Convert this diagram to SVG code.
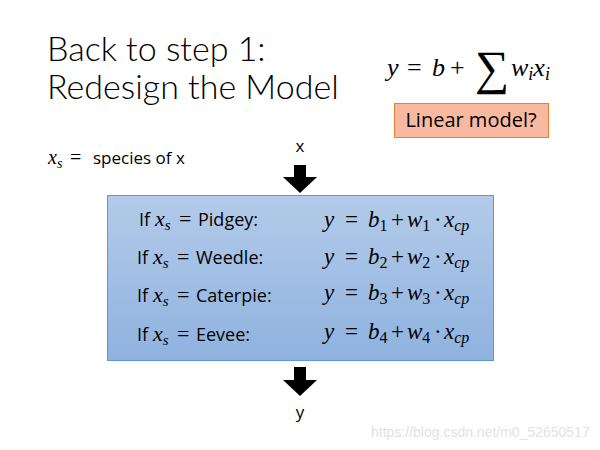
<svg xmlns="http://www.w3.org/2000/svg" width="600" height="450" viewBox="0 0 600 450">
<defs>
<linearGradient id="bg" x1="0" y1="0" x2="0" y2="1">
<stop offset="0" stop-color="#b3cbe9"/>
<stop offset="1" stop-color="#8fb2df"/>
</linearGradient>
<style>
.t{font-family:"Open Sans","Liberation Sans",sans-serif;fill:#000}
.h{font-family:Lato,"Open Sans",sans-serif;font-weight:300;font-size:34px;fill:#000}
.m{font-family:"Liberation Serif",serif;font-style:italic;fill:#000}
.n{font-family:"Liberation Serif",serif;fill:#000}
.arr{fill:#000}
</style>
</defs>
<rect width="600" height="450" fill="#fff"/>
<g id="title">
<text class="h" x="47" y="61">Back to step 1:</text>
<text class="h" x="47" y="99">Redesign the Model</text>
</g>
<g id="formula" font-size="26">
<text class="m" x="387" y="76">y</text>
<text class="n" x="407" y="76">=</text>
<text class="m" x="432" y="76">b</text>
<text class="n" x="450" y="76">+</text>
<text class="n" x="475" y="84" font-size="48">∑</text>
<text class="m" x="511" y="76">w<tspan font-size="18" dy="4">i</tspan><tspan dy="-4">x</tspan><tspan font-size="18" dy="4">i</tspan></text>
</g>
<g id="linear">
<rect x="394.5" y="103.5" width="154" height="34" fill="#f7b9a0" stroke="#ed7d31" stroke-width="1"/>
<text class="t" x="471" y="127" font-size="20" text-anchor="middle">Linear model?</text>
</g>
<g id="species">
<text x="48" y="164"><tspan class="m" font-size="20">x</tspan><tspan class="m" font-size="14" dy="4">s</tspan><tspan class="n" font-size="20" dy="-4" x="70">=</tspan><tspan class="t" font-size="17" x="93">species of x</tspan></text>
</g>
<g id="input">
<text class="t" x="300" y="152" font-size="17" text-anchor="middle">x</text>
</g>
<g id="output">
<text class="t" x="300" y="418" font-size="17" text-anchor="middle">y</text>
</g>
<g id="connectors">
<polygon class="arr" points="294,165 306,165 306,177 317,177 300,193 283,177 294,177"/>
<polygon class="arr" points="294,367 306,367 306,380 317,380 300,396 283,380 294,380"/>
</g>
<g id="box">
<rect x="107.5" y="195.5" width="386" height="165" fill="url(#bg)" stroke="#5b9bd5" stroke-width="1"/>
<g font-size="22">
<text x="139" y="226"><tspan class="t" font-size="18">If</tspan><tspan class="m" x="155">x</tspan><tspan class="m" font-size="15" dy="4">s</tspan><tspan class="n" dy="-4" x="179">=</tspan><tspan class="t" font-size="18" x="198">Pidgey:</tspan></text>
<text x="137" y="264"><tspan class="t" font-size="18">If</tspan><tspan class="m" x="153">x</tspan><tspan class="m" font-size="15" dy="4">s</tspan><tspan class="n" dy="-4" x="177">=</tspan><tspan class="t" font-size="18" x="196">Weedle:</tspan></text>
<text x="137" y="302"><tspan class="t" font-size="18">If</tspan><tspan class="m" x="153">x</tspan><tspan class="m" font-size="15" dy="4">s</tspan><tspan class="n" dy="-4" x="177">=</tspan><tspan class="t" font-size="18" x="196">Caterpie:</tspan></text>
<text x="137" y="341"><tspan class="t" font-size="18">If</tspan><tspan class="m" x="153">x</tspan><tspan class="m" font-size="15" dy="4">s</tspan><tspan class="n" dy="-4" x="177">=</tspan><tspan class="t" font-size="18" x="196">Eevee:</tspan></text>
</g>
<g font-size="23">
<text x="324" y="227"><tspan class="m">y</tspan><tspan class="n" x="345">=</tspan><tspan class="m" x="368">b</tspan><tspan class="n" font-size="16" dy="4">1</tspan><tspan class="n" dy="-4" x="391">+</tspan><tspan class="m" x="407">w</tspan><tspan class="n" font-size="16" dy="4">1</tspan><tspan class="n" dy="-4" x="434">·</tspan><tspan class="m" x="444">x</tspan><tspan class="m" font-size="16" dy="4">cp</tspan></text>
<text x="324" y="264"><tspan class="m">y</tspan><tspan class="n" x="345">=</tspan><tspan class="m" x="368">b</tspan><tspan class="n" font-size="16" dy="4">2</tspan><tspan class="n" dy="-4" x="391">+</tspan><tspan class="m" x="407">w</tspan><tspan class="n" font-size="16" dy="4">2</tspan><tspan class="n" dy="-4" x="434">·</tspan><tspan class="m" x="444">x</tspan><tspan class="m" font-size="16" dy="4">cp</tspan></text>
<text x="324" y="300"><tspan class="m">y</tspan><tspan class="n" x="345">=</tspan><tspan class="m" x="368">b</tspan><tspan class="n" font-size="16" dy="4">3</tspan><tspan class="n" dy="-4" x="391">+</tspan><tspan class="m" x="407">w</tspan><tspan class="n" font-size="16" dy="4">3</tspan><tspan class="n" dy="-4" x="434">·</tspan><tspan class="m" x="444">x</tspan><tspan class="m" font-size="16" dy="4">cp</tspan></text>
<text x="324" y="339"><tspan class="m">y</tspan><tspan class="n" x="345">=</tspan><tspan class="m" x="368">b</tspan><tspan class="n" font-size="16" dy="4">4</tspan><tspan class="n" dy="-4" x="391">+</tspan><tspan class="m" x="407">w</tspan><tspan class="n" font-size="16" dy="4">4</tspan><tspan class="n" dy="-4" x="434">·</tspan><tspan class="m" x="444">x</tspan><tspan class="m" font-size="16" dy="4">cp</tspan></text>
</g>
</g>
<text x="371" y="437" font-family="Liberation Sans, sans-serif" font-size="14" fill="#e2e2e2">https://blog.csdn.net/m0_52650517</text>
</svg>
